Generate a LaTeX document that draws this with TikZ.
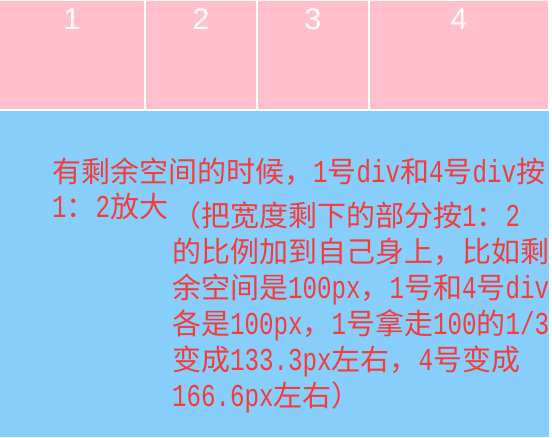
\documentclass[tikz,border=0pt]{standalone}
\usepackage{fontspec}
\newfontfamily\cjk{Noto Sans CJK SC}
\newfontfamily\hwfont{Liberation Mono}[Scale=1.1,FakeStretch=0.7576]
\newfontfamily\numfont{Liberation Sans}
\newcommand\halfw[1]{{\hwfont #1}}
\definecolor{boxpink}{RGB}{255,192,203}
\definecolor{skyblue}{RGB}{135,206,250}
\definecolor{txtred}{RGB}{245,60,60}
\begin{document}
\begin{tikzpicture}[x=1pt,y=-1pt,
  pinkbox/.style={fill=boxpink,draw=none,inner sep=0pt,anchor=north west,minimum height=108pt},
  num/.style={text=white,inner sep=0pt,anchor=base,font=\numfont\fontsize{30pt}{30pt}\selectfont},
  txt/.style={text=txtred,inner sep=0pt,anchor=base west,font=\cjk\fontsize{29pt}{29pt}\selectfont}]
\useasboundingbox (0,0) rectangle (552,437);
\fill[white] (0,0) rectangle (552,437);
% pink flex items
\node[pinkbox,minimum width=144pt] (b1) at (0,1) {};
\node[pinkbox,minimum width=110pt] (b2) at (146,1) {};
\node[pinkbox,minimum width=110pt] (b3) at (258,1) {};
\node[pinkbox,minimum width=178pt] (b4) at (370,1) {};
\node[num] (n1) at (72,29) {1};
\node[num] (n2) at (201,29) {2};
\node[num] (n3) at (313,29) {3};
\node[num] (n4) at (459,29) {4};
% blue area
\node[fill=skyblue,draw=none,inner sep=0pt,anchor=north west,minimum width=549pt,minimum height=326pt] (bg) at (0,111) {};
% text
\node[txt] (l1) at (52,182) {有剩余空间的时候，\halfw{1}号\halfw{div}和\halfw{4}号\halfw{div}按};
\node[txt] (l2) at (52,217) {\halfw{1}：\halfw{2}放大};
\node[txt] (l3) at (172,226) {（把宽度剩下的部分按\halfw{1}：\halfw{2}};
\node[txt] (l4) at (172,262) {的比例加到自己身上，比如剩};
\node[txt] (l5) at (172,298) {余空间是\halfw{100px}，\halfw{1}号和\halfw{4}号\halfw{div}};
\node[txt] (l6) at (172,334) {各是\halfw{100px}，\halfw{1}号拿走\halfw{100}的\halfw{1/3}};
\node[txt] (l7) at (172,370) {变成\halfw{133.3px}左右，\halfw{4}号变成};
\node[txt] (l8) at (172,406) {\halfw{166.6px}左右）};
\end{tikzpicture}
\end{document}
